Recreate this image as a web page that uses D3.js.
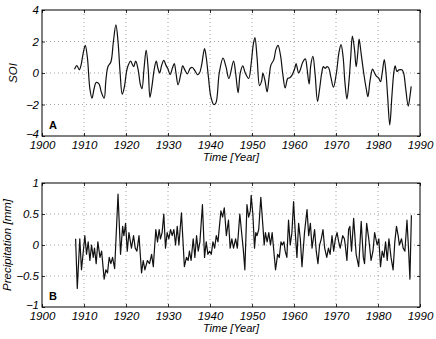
<!DOCTYPE html>
<html>
<head>
<meta charset="utf-8">
<script src="https://cdn.jsdelivr.net/npm/d3@7"></script>
<style>
body { margin: 0; background: #fff; }
</style>
</head>
<body>
<div class="d3-visualize"></div>
<script>
// SOI (smoothed)
var soiYears = [
  1907.75, 1908.3, 1908.9, 1909.3, 1909.8, 1910.3, 1910.8, 1911.4, 1911.9, 1912.4,
  1912.9, 1913.6, 1914.1, 1914.8, 1915.2, 1915.7, 1916.4, 1917.0, 1917.6, 1918.1,
  1918.6, 1919.1, 1919.6, 1920.3, 1921.1, 1921.8, 1922.3, 1922.9, 1923.4, 1923.8,
  1924.3, 1924.8, 1925.3, 1925.7, 1926.2, 1926.7, 1927.2, 1927.6, 1928.0, 1928.5,
  1929.0, 1929.5, 1930.0, 1930.5, 1931.1, 1931.5, 1931.9, 1932.4, 1933.1, 1933.5,
  1934.0, 1934.6, 1935.3, 1935.8, 1936.4, 1937.0, 1937.5, 1938.0, 1938.7, 1939.1,
  1939.6, 1940.2, 1940.9, 1941.4, 1942.2, 1943.1, 1943.8, 1944.5, 1945.6, 1946.1,
  1946.7, 1947.2, 1947.8, 1948.4, 1949.2, 1949.8, 1950.3, 1950.7, 1951.2, 1951.8,
  1952.3, 1952.6, 1953.1, 1953.6, 1954.1, 1954.5, 1955.2, 1955.7, 1956.2, 1956.8,
  1957.3, 1957.9, 1958.5, 1959.0, 1959.5, 1960.2, 1960.5, 1961.1, 1961.5, 1962.1,
  1962.7, 1963.1, 1963.6, 1964.0, 1964.5, 1965.0, 1965.6, 1966.1, 1966.6, 1967.0,
  1967.4, 1967.9, 1968.3, 1968.8, 1969.4, 1970.1, 1970.7, 1971.2, 1971.7, 1972.1,
  1972.6, 1973.1, 1973.5, 1973.9, 1974.4, 1974.8, 1975.2, 1975.5, 1976.0, 1976.6,
  1977.2, 1977.6, 1978.1, 1978.7, 1979.1, 1979.6, 1980.1, 1980.6, 1981.0, 1981.5,
  1981.9, 1982.3, 1982.8, 1983.3, 1983.8, 1984.1, 1984.5, 1985.0, 1985.7, 1986.1,
  1986.6, 1987.2, 1987.6, 1987.9
];
var soiValues = [
  0.24, 0.47, 0.2, 0.5, 1.25, 1.75, 1.0, -1.0, -1.6, -1.0,
  -0.6, -0.7, -1.2, -1.6, -0.5, 0.4, 0.7, 2.0, 3.05, 2.0,
  0.0, -1.35, -0.9, 0.3, 0.75, 0.4, 0.75, 0.2, -0.7, -1.0,
  0.3, 1.45, 0.2, -1.55, -0.8, 0.2, 0.75, 0.3, 0.0, 0.5,
  0.8, 0.5, 0.25, -0.1, 0.35, 0.6, 0.0, -0.75, 0.0, 0.45,
  0.2, -0.05, 0.3, 0.35, 0.15, -0.1, 0.0, 0.5, 1.55, 1.0,
  -0.2, -1.5, -2.0, -1.9, 0.0, 0.95, 0.4, -0.35, 0.75, 0.0,
  -1.25, 0.0, 0.45, 0.0, -0.35, 0.6, 1.8, 2.25, 1.0, -0.8,
  -0.5, 0.0, -0.5, -1.2, -0.2, 0.5, 0.85, 1.5, 1.75, 1.1,
  0.0, -0.95, -0.35, -0.3, -0.15, 0.3, 0.6, 0.0, 0.2, 0.7,
  0.9, 0.3, -0.7, 0.5, 1.05, 0.0, -1.8, -1.0, 0.0, 0.4,
  0.3, 0.4, 0.3, -0.3, -0.9, 0.0, 1.3, 1.8, 1.0, -0.5,
  -1.65, -0.5, 1.0, 2.35, 1.5, 0.4, 1.3, 2.15, 1.2, 0.0,
  -1.0, -1.5, -0.5, 0.25, 0.05, -0.2, -0.3, -0.55, 0.0, 0.85,
  0.0, -1.5, -3.3, -1.5, 0.1, 0.45, 0.1, 0.2, 0.2, 0.0,
  -1.0, -2.1, -1.5, -0.85
];

// precipitation anomaly
var precipYears = [
  1908.0, 1908.4, 1909.0, 1909.4, 1910.2, 1910.6, 1911.0, 1911.4, 1911.8, 1912.2,
  1912.5, 1912.9, 1913.3, 1913.8, 1914.2, 1914.8, 1915.2, 1915.6, 1916.0, 1916.4,
  1916.8, 1917.3, 1918.1, 1918.7, 1919.2, 1919.5, 1919.9, 1920.3, 1920.7, 1921.3,
  1921.8, 1922.2, 1922.6, 1923.1, 1923.7, 1924.1, 1924.5, 1925.1, 1925.6, 1926.1,
  1926.5, 1927.1, 1927.5, 1927.9, 1928.2, 1928.6, 1929.0, 1929.4, 1929.8, 1930.2,
  1930.6, 1931.0, 1931.4, 1931.8, 1932.2, 1932.6, 1933.2, 1933.9, 1934.4, 1934.8,
  1935.1, 1935.5, 1936.0, 1936.4, 1936.8, 1937.2, 1937.6, 1938.2, 1938.7, 1939.1,
  1939.5, 1939.9, 1940.3, 1940.7, 1941.1, 1941.5, 1941.9, 1942.6, 1943.0, 1943.4,
  1943.9, 1944.4, 1944.8, 1945.2, 1945.6, 1946.1, 1946.5, 1947.1, 1947.6, 1947.9,
  1948.3, 1948.8, 1949.2, 1949.6, 1949.8, 1950.2, 1950.6, 1950.9, 1951.2, 1951.6,
  1952.1, 1952.6, 1952.9, 1953.2, 1953.6, 1954.0, 1954.4, 1954.8, 1955.2, 1955.6,
  1956.1, 1956.5, 1956.9, 1957.2, 1957.6, 1957.9, 1958.3, 1958.7, 1959.1, 1959.5,
  1959.9, 1960.3, 1960.7, 1961.1, 1961.5, 1961.9, 1962.5, 1963.1, 1963.5, 1963.9,
  1964.3, 1964.9, 1965.3, 1965.7, 1966.1, 1966.5, 1966.9, 1967.3, 1967.8, 1968.2,
  1968.6, 1969.05, 1969.45, 1969.85, 1970.25, 1970.65, 1971.0, 1971.6, 1972.0, 1972.2,
  1972.6, 1973.0, 1973.3, 1973.7, 1974.2, 1974.8, 1975.4, 1976.0, 1976.5, 1976.8,
  1977.3, 1977.8, 1978.35, 1978.8, 1979.2, 1979.8, 1980.2, 1980.6, 1981.0, 1981.4,
  1981.8, 1982.2, 1982.6, 1983.1, 1983.6, 1984.0, 1984.4, 1984.8, 1985.1, 1985.6,
  1986.0, 1986.4, 1986.9, 1987.3, 1987.6, 1987.95
];
var precipValues = [
  0.1, -0.7, 0.1, -0.4, 0.15, -0.15, 0.05, -0.25, 0.0, -0.2,
  -0.05, -0.3, 0.05, -0.2, -0.1, -0.55, -0.4, -0.45, -0.2, -0.3,
  -0.2, -0.38, 0.82, -0.15, 0.3, 0.15, 0.35, -0.1, 0.2, -0.05,
  0.15, -0.05, -0.1, 0.15, -0.45, -0.25, -0.4, -0.25, -0.3, -0.15,
  -0.35, 0.25, 0.05, 0.25, 0.1, 0.2, 0.5, -0.05, 0.2, 0.1,
  0.25, 0.15, 0.25, 0.0, 0.3, 0.0, 0.52, -0.35, -0.2, -0.25,
  -0.1, -0.25, 0.1, -0.2, 0.15, -0.1, 0.05, 0.65, -0.2, 0.05,
  -0.15, -0.1, -0.15, 0.05, -0.05, 0.15, 0.05, 0.55, 0.45, 0.6,
  0.15, 0.4, -0.05, 0.1, -0.05, 0.1, -0.05, 0.5, 0.15, -0.05,
  -0.4, 0.65, 0.45, 0.55, 0.8, 0.5, -0.05, 0.2, 0.15, 0.25,
  0.77, 0.3, 0.0, 0.2, 0.05, 0.2, 0.0, 0.2, -0.1, -0.4,
  -0.15, -0.2, 0.05, 0.0, 0.05, -0.1, -0.2, 0.4, 0.0, 0.2,
  0.7, 0.2, -0.2, 0.35, 0.1, -0.35, 0.2, 0.57, 0.15, 0.35,
  -0.05, 0.25, -0.1, -0.3, 0.0, 0.1, 0.25, -0.05, -0.2, -0.05,
  -0.15, 0.15, -0.1, 0.1, 0.2, 0.05, -0.05, 0.15, 0.1, 0.0,
  -0.25, 0.25, 0.3, -0.1, 0.43, -0.15, -0.35, 0.38, -0.2, -0.3,
  0.35, 0.1, -0.25, -0.1, 0.2, 0.0, 0.1, -0.35, -0.1, -0.2,
  0.05, -0.25, 0.1, -0.2, -0.4, 0.05, 0.3, 0.15, 0.0, 0.1,
  -0.05, -0.1, 0.4, -0.1, -0.55, 0.48
];

var yearTicks = [1900, 1910, 1920, 1930, 1940, 1950, 1960, 1970, 1980, 1990];
var soiTicks = [-4, -2, 0, 2, 4];
var soiTickLabels = ["\u22124", "\u22122", "0", "2", "4"];
var precipTicks = [-1, -0.5, 0, 0.5, 1];
var precipTickLabels = ["\u22121", "\u22120.5", "0", "0.5", "1"];

var width = 436,
    height = 339,
    left = 42,
    right = 420;

var svg = d3.select('.d3-visualize').append('svg')
    .attr('width', width)
    .attr('height', height)
    .style('display', 'block')
    .style('background', '#fff');

function drawPanel(p)
{
    var x = d3.scaleLinear().domain([1900, 1990]).range([left, right]);
    var y = d3.scaleLinear().domain(p.yDomain).range([p.bottom, p.top]);
    var g = svg.append('g');

    // dotted grid
    g.selectAll('line.vgrid').data(yearTicks.slice(1, -1))
      .enter().append('line')
        .attr('x1', function (d) { return x(d); })
        .attr('x2', function (d) { return x(d); })
        .attr('y1', p.top)
        .attr('y2', p.bottom)
        .attr('stroke', '#8a8a8a')
        .attr('stroke-width', 0.8)
        .attr('stroke-dasharray', '1,3');
    g.selectAll('line.hgrid').data(p.ticks.slice(1, -1))
      .enter().append('line')
        .attr('x1', left)
        .attr('x2', right)
        .attr('y1', function (d) { return y(d); })
        .attr('y2', function (d) { return y(d); })
        .attr('stroke', '#8a8a8a')
        .attr('stroke-width', 0.8)
        .attr('stroke-dasharray', '1,3');

    var pts = p.years.map(function (d, i) { return [d, p.values[i]]; });
    var line = d3.line()
        .x(function (d) { return x(d[0]); })
        .y(function (d) { return y(d[1]); })
        .curve(p.curve);
    g.append('path')
        .datum(pts)
        .attr('fill', 'none')
        .attr('stroke', '#111')
        .attr('stroke-width', 1.2)
        .attr('stroke-linejoin', 'round')
        .attr('d', line);

    // axes with inward ticks, box style
    var bottomAxis = d3.axisBottom(x).tickValues(yearTicks).tickSizeInner(-3).tickSizeOuter(0).tickPadding(5)
        .tickFormat(d3.format('d'));
    var topAxis = d3.axisTop(x).tickValues(yearTicks).tickSizeInner(-3).tickSizeOuter(0).tickFormat('');
    var leftAxis = d3.axisLeft(y).tickValues(p.ticks).tickSizeInner(-3).tickSizeOuter(0).tickPadding(3)
        .tickFormat(function (d, i) { return p.tickLabels[i]; });
    var rightAxis = d3.axisRight(y).tickValues(p.ticks).tickSizeInner(-3).tickSizeOuter(0).tickFormat('');

    var axes = [
        g.append('g').attr('transform', 'translate(0,' + p.bottom + ')').call(bottomAxis),
        g.append('g').attr('transform', 'translate(0,' + p.top + ')').call(topAxis),
        g.append('g').attr('transform', 'translate(' + left + ',0)').call(leftAxis),
        g.append('g').attr('transform', 'translate(' + right + ',0)').call(rightAxis)
    ];
    axes.forEach(function (a) {
        a.select('.domain').remove();
        a.selectAll('.tick line').attr('stroke', '#000').attr('stroke-width', 0.8);
        a.selectAll('.tick text')
            .attr('font-family', '"Liberation Sans Narrow", "Liberation Sans", Arial, sans-serif')
            .attr('font-style', 'italic')
            .attr('font-size', 11.5)
            .attr('fill', '#000');
    });
    // lowest y label sits a little above the corner so it clears the year labels
    axes[2].selectAll('.tick text').filter(function (d) { return d === p.yDomain[0]; })
        .attr('dy', '0.1em');

    g.append('rect')
        .attr('x', left)
        .attr('y', p.top)
        .attr('width', right - left)
        .attr('height', p.bottom - p.top)
        .attr('fill', 'none')
        .attr('stroke', '#000')
        .attr('stroke-width', 1);

    g.append('text')
        .attr('x', (left + right) / 2)
        .attr('y', p.bottom + 25)
        .attr('text-anchor', 'middle')
        .attr('font-family', '"Liberation Sans", Arial, sans-serif')
        .attr('font-style', 'italic')
        .attr('font-size', 11)
        .text('Time [Year]');

    g.append('text')
        .attr('transform', 'translate(' + p.labelX + ',' + (p.top + p.bottom) / 2 + ') rotate(-90)')
        .attr('text-anchor', 'middle')
        .attr('font-family', '"Liberation Sans", Arial, sans-serif')
        .attr('font-style', 'italic')
        .attr('font-size', 11.5)
        .text(p.yLabel);

    g.append('text')
        .attr('x', left + 7)
        .attr('y', p.bottom - 7.5)
        .attr('font-family', '"Liberation Sans", Arial, sans-serif')
        .attr('font-weight', 'bold')
        .attr('font-size', 11)
        .text(p.letter);
}

drawPanel({
    top: 10, bottom: 136,
    yDomain: [-4, 4], ticks: soiTicks, tickLabels: soiTickLabels,
    years: soiYears, values: soiValues,
    curve: d3.curveCatmullRom.alpha(0.5),
    yLabel: 'SOI', labelX: 17, letter: 'A'
});

drawPanel({
    top: 183, bottom: 307,
    yDomain: [-1, 1], ticks: precipTicks, tickLabels: precipTickLabels,
    years: precipYears, values: precipValues,
    curve: d3.curveLinear,
    yLabel: 'Precipitation [mm]', labelX: 11, letter: 'B'
});
</script>
</body>
</html>
